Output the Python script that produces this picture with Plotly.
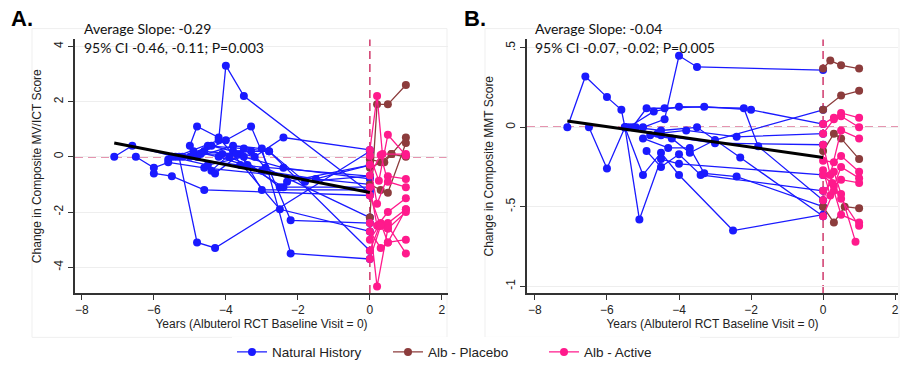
import plotly.graph_objects as go

# ---------------- Panel A (MV/ICT) ----------------
a_nh_x = [
    [-7.1, -6.6, -5.4, -3.6, 0],
    [-6.5, -6.0, -5.6, -4.6, 0],
    [-6.0, -5.5, -4.6, 0],
    [-5.6, -4.2, -4.0, -3.5, 0],
    [-5.3, -4.8, -4.3, 0],
    [-5.0, -4.8, -4.2, -2.5, 0],
    [-4.6, -4.0, -3.3, -2.2, 0],
    [-4.8, -3.8, -3.0, -2.2, 0],
    [-4.5, -3.5, -2.8, 0],
    [-5.2, -4.4, -3.2, -2.4, 0],
    [-4.9, -4.2, -3.0, -1.5, 0],
    [-4.4, -3.8, -2.8, -1.8, 0],
    [-3.9, -3.4, -2.4, 0],
    [-4.3, -3.6, -3.0, 0],
    [-5.5, -4.5, -3.5, -2.4, 0],
    [-5.0, -4.6, -3.7, -2.5, -2.3, 0],
    [-4.7, -4.1, -3.3, -2.9, 0],
]
a_nh_y = [
    [0.0, 0.4, 0.0, -0.3, -0.7],
    [0.0, -0.4, -0.2, -0.4, -1.0],
    [-0.6, -0.7, -1.2, -1.4],
    [-0.1, 0.6, 3.3, 2.2, -1.3],
    [0.0, -3.1, -3.3, 0.2],
    [0.4, 1.1, 0.7, -1.9, -2.7],
    [0.2, 0.6, 1.1, -2.3, -2.4],
    [0.0, 0.4, 0.3, -3.5, -3.7],
    [0.4, 0.3, 0.2, -3.4],
    [0.0, 0.4, 0.0, 0.7, 0.25],
    [0.2, 0.0, -0.5, -0.8, -0.3],
    [-0.5, 0.2, 0.2, -0.9, -0.7],
    [0.0, -0.3, -1.1, -1.1],
    [-0.6, 0.1, -1.2, -1.2],
    [0.0, -0.3, 0.0, -0.4, -0.8],
    [0.0, 0.2, 0.1, -1.1, -0.9, -0.3],
    [0.1, 0.1, 0.2, -0.4, -2.2],
]
a_pl_x = [
    [0, 0.2, 0.5, 1.0],
    [0, 0.3, 0.6, 1.0],
    [0, 0.3, 0.5, 1.0],
    [0, 0.4, 0.6, 1.0],
]
a_pl_y = [
    [-2.2, 1.9, 1.9, 2.6],
    [-0.4, -0.2, 0.1, 0.7],
    [-1.0, -1.2, -1.3, 0.5],
    [-0.1, -0.2, 0.1, 0.0],
]
a_ac_x = [
    [0, 0.2, 0.35, 1.0],
    [0, 0.25, 0.5, 1.0],
    [0, 0.2, 0.5, 1.0],
    [0, 0.3, 0.5, 1.0],
    [0, 0.2, 0.5, 1.0],
    [0, 0.3, 0.5, 1.0],
    [0, 0.2, 0.5, 1.0],
    [0, 0.3, 0.5, 1.0],
    [0, 0.25, 0.5, 1.0],
    [0, 0.3, 0.5, 1.0],
    [0, 0.3, 0.5],
]
a_ac_y = [
    [0.25, 2.2, 0.1, 0.1],
    [0.04, -0.87, 0.8, 0.05],
    [-0.29, -1.7, -0.7, -0.8],
    [-0.68, 0.07, -0.9, -1.1],
    [-1.1, -2.5, -2.0, -1.5],
    [-1.4, -2.5, -2.4, -1.9],
    [-2.4, -4.7, -2.6, -2.0],
    [-2.7, -3.3, -3.1, -3.0],
    [-3.0, -2.5, -2.5, -3.5],
    [-3.4, -2.4, -3.1, -1.9],
    [-3.7, -2.5, -2.6],
]
a_fit_x = [-7.1, 0]
a_fit_y = [0.5, -1.29]

# ---------------- Panel B (MMT) ----------------
b_nh_x = [
    [-7.1, -6.6, -6.0, -5.6, -5.5, -4.5, -3.0, 0],
    [-6.5, -6.0, -5.5, -5.1, -4.5, -4.0, 0],
    [-5.5, -5.0, -4.5, -4.0, -2.5, 0],
    [-5.0, -4.4, -4.0, -3.5, 0],
    [-5.3, -4.9, -4.4, -3.3, -2.0, 0],
    [-5.4, -4.7, -4.0, -2.2, -1.8, 0],
    [-5.2, -4.5, -3.5, -2.3, 0],
    [-5.0, -4.3, -3.7, -3.3, -2.4, 0],
    [-4.9, -4.5, -4.0, -3.4, 0],
    [-5.5, -4.6, -3.8, -2.4, 0],
    [-4.8, -4.2, -3.7, -3.0, 0],
]
b_nh_y = [
    [0.0, 0.32, 0.19, 0.11, 0.0, -0.05, -0.1, -0.11],
    [0.0, -0.26, 0.0, -0.58, -0.2, -0.23, -0.3],
    [0.0, -0.3, -0.16, -0.3, -0.65, -0.55],
    [0.0, 0.05, 0.45, 0.38, 0.36],
    [0.0, 0.12, 0.12, 0.13, 0.11, 0.02],
    [0.0, 0.1, 0.13, 0.12, -0.12, -0.46],
    [0.0, -0.02, 0.0, -0.19, -0.56],
    [-0.07, -0.13, -0.13, -0.29, -0.31, -0.5],
    [-0.15, -0.25, -0.17, -0.3, -0.4],
    [0.0, -0.04, -0.02, -0.06, -0.04],
    [-0.05, -0.07, -0.16, -0.08, 0.11],
]
b_pl_x = [
    [0, 0.2, 0.5, 1.0],
    [0, 0.5, 1.0],
    [0, 0.3, 0.5, 1.0],
    [0, 0.3, 0.6, 1.0],
]
b_pl_y = [
    [0.37, 0.42, 0.39, 0.37],
    [0.11, 0.2, 0.23],
    [-0.15, -0.04, -0.07, -0.2],
    [-0.5, -0.6, -0.5, -0.51],
]
b_ac_x = [
    [0, 0.3, 0.5, 1.0],
    [0, 0.3, 0.5, 1.0],
    [0, 0.2, 0.5, 1.0],
    [0, 0.3, 0.5, 1.0],
    [0, 0.2, 0.5, 1.0],
    [0, 0.3, 0.5, 1.0],
    [0, 0.25, 0.5, 1.0],
    [0, 0.3, 0.5, 0.9],
    [0, 0.3, 0.5, 1.0],
]
b_ac_y = [
    [0.02, 0.06, 0.09, 0.06],
    [-0.04, 0.05, 0.07, 0.0],
    [-0.11, -0.3, -0.02, -0.07],
    [-0.21, -0.22, -0.18, -0.28],
    [-0.27, -0.43, -0.25, -0.32],
    [-0.3, -0.37, -0.33, -0.35],
    [-0.4, -0.35, -0.45, -0.62],
    [-0.46, -0.28, -0.42, -0.72],
    [-0.56, -0.4, -0.55, -0.6],
]
b_fit_x = [-7.1, 0]
b_fit_y = [0.04, -0.19]

a_yticks = [-4, -2, 0, 2, 4]
a_yticklabels = ["-4", "-2", "0", "2", "4"]
b_yticks = [-1, -0.5, 0, 0.5]
b_yticklabels = ["-1", "-.5", "0", ".5"]
xticks = [-8, -6, -4, -2, 0, 2]

BLUE = "#1a1aff"
BROWN = "#8c3c3c"
PINK = "#ff1a8c"
REF = "#cc2a60"


def flatten(xs, ys):
    fx, fy = [], []
    for x, y in zip(xs, ys):
        fx += x + [None]
        fy += y + [None]
    return fx, fy


fig = go.Figure()

panels = [
    ("x", "y", a_nh_x, a_nh_y, a_pl_x, a_pl_y, a_ac_x, a_ac_y, a_fit_x, a_fit_y, True),
    ("x2", "y2", b_nh_x, b_nh_y, b_pl_x, b_pl_y, b_ac_x, b_ac_y, b_fit_x, b_fit_y, False),
]
for xa, ya, nx, ny, px, py, cx, cy, fx, fy, show in panels:
    for name, xs, ys, col in [("Natural History", nx, ny, BLUE),
                              ("Alb - Placebo", px, py, BROWN),
                              ("Alb - Active", cx, cy, PINK)]:
        X, Y = flatten(xs, ys)
        fig.add_trace(go.Scatter(
            x=X, y=Y, mode="lines+markers", name=name, showlegend=show,
            line=dict(color=col, width=1.3), marker=dict(color=col, size=8),
            xaxis=xa, yaxis=ya, connectgaps=False))
    fig.add_trace(go.Scatter(x=fx, y=fy, mode="lines", showlegend=False,
                             line=dict(color="black", width=3),
                             xaxis=xa, yaxis=ya))

ydom = [1 - 297 / 368, 1 - 40 / 368]
FONT = "Liberation Sans, Arial"
axis_common = dict(showline=True, linecolor="#333333", linewidth=1.5,
                   ticks="outside", ticklen=5, tickwidth=1.2, tickcolor="#333333",
                   zeroline=False, tickfont=dict(family=FONT, size=12, color="#222"),
                   automargin=False)

fig.update_layout(
    width=900, height=368,
    margin=dict(l=0, r=0, t=0, b=0),
    paper_bgcolor="white", plot_bgcolor="white",
    showlegend=True,
    legend=dict(orientation="h", x=232 / 900, xanchor="left", y=1 - 357 / 368, yanchor="middle",
                font=dict(family=FONT, size=13.5, color="#222"),
                entrywidth=111, entrywidthmode="pixels", traceorder="normal"),
    xaxis=dict(domain=[75 / 900, 448 / 900], range=[-8.19, 2.17], tickvals=xticks,
               showgrid=False, anchor="y",
               title=dict(text="Years (Albuterol RCT Baseline Visit = 0)", standoff=3,
                          font=dict(family=FONT, size=12, color="#222")),
               **axis_common),
    yaxis=dict(domain=ydom, range=[-4.93, 4.25], tickvals=a_yticks, ticktext=a_yticklabels,
               tickangle=-90, showgrid=True, gridcolor="#eeeeee", gridwidth=1, anchor="x",
               title=dict(text="Change in Composite MV/ICT Score", standoff=8,
                          font=dict(family=FONT, size=12, color="#222")),
               **axis_common),
    xaxis2=dict(domain=[527 / 900, 898 / 900], range=[-8.22, 2.08], tickvals=xticks,
                showgrid=False, anchor="y2",
                title=dict(text="Years (Albuterol RCT Baseline Visit = 0)", standoff=3,
                           font=dict(family=FONT, size=12, color="#222")),
                **axis_common),
    yaxis2=dict(domain=ydom, range=[-1.043, 0.553], tickvals=b_yticks, ticktext=b_yticklabels,
                tickangle=-90, showgrid=True, gridcolor="#eeeeee", gridwidth=1, anchor="x2",
                title=dict(text="Change in Composite MMT Score", standoff=8,
                           font=dict(family=FONT, size=12, color="#222")),
                **axis_common),
)

# reference dashed lines at 0
for xr, yr in [("x", "y"), ("x2", "y2")]:
    fig.add_shape(type="line", xref=xr + " domain", yref=yr, x0=0, x1=1, y0=0, y1=0,
                  line=dict(color=REF, width=1.4, dash="8px,5px"), layer="below")
    fig.add_shape(type="line", xref=xr, yref=yr + " domain", x0=0, x1=0, y0=0, y1=1,
                  line=dict(color=REF, width=1.4, dash="8px,5px"), layer="below")

# faint panel frames
for x0, x1 in [(32, 447), (485, 899)]:
    fig.add_shape(type="rect", xref="paper", yref="paper",
                  x0=x0 / 900, x1=x1 / 900, y0=1 - 342 / 368, y1=1 - 29 / 368,
                  line=dict(color="#efefef", width=1), layer="below")

# panel letters and slope annotations
ann_font = dict(family="Lato, Open Sans", size=14, color="#111")
for xl, letter in [(9, "A."), (462, "B.")]:
    fig.add_annotation(xref="paper", yref="paper", x=xl / 900, y=1 - 19 / 368,
                       xanchor="left", yanchor="middle", showarrow=False, text="<b>%s</b>" % letter,
                       font=dict(family=FONT, size=22, color="#000"))
for xl, s1, s2 in [(82, "Average Slope: -0.29", "95% CI -0.46, -0.11; P=0.003"),
                   (533, "Average Slope: -0.04", "95% CI -0.07, -0.02; P=0.005")]:
    fig.add_annotation(xref="paper", yref="paper", x=xl / 900, y=1 - 29 / 368,
                       xanchor="left", yanchor="middle", showarrow=False, text=s1, font=ann_font)
    fig.add_annotation(xref="paper", yref="paper", x=xl / 900, y=1 - 48 / 368,
                       xanchor="left", yanchor="middle", showarrow=False, text=s2, font=ann_font)

fig.write_html("out.html", config={"displayModeBar": False},
               post_script="document.body.style.margin='0';")
